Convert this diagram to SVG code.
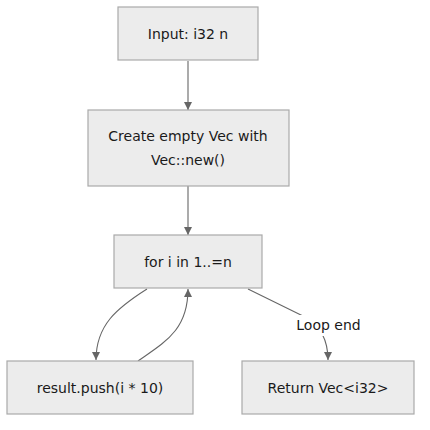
<svg xmlns="http://www.w3.org/2000/svg" width="430" height="430" viewBox="0 0 430 430">
<defs>
<style>
.node rect{fill:#ececec;stroke:#aaaaaa;stroke-width:1.2}
.node text,.lbl text{font-family:"DejaVu Sans","Open Sans",sans-serif;font-size:14px;fill:#1a1a1a;text-anchor:middle;dominant-baseline:central}
.edge{fill:none;stroke:#666;stroke-width:1.1}
</style>
<marker id="ah" viewBox="0 0 10 10" refX="10" refY="5" markerWidth="8" markerHeight="8" markerUnits="userSpaceOnUse" orient="auto">
<path d="M0,0 L10,5 L0,10 z" fill="#666"/>
</marker>
</defs>
<rect width="430" height="430" fill="#fff"/>
<g id="connectors">
<path class="edge" d="M188,61 L188,110" marker-end="url(#ah)"/>
<path class="edge" d="M188,186 L188,235" marker-end="url(#ah)"/>
<path class="edge" d="M147,289 C117,308 96,325 96,360" marker-end="url(#ah)"/>
<path class="edge" d="M138,361 C165,342 188,330 188,289" marker-end="url(#ah)"/>
<path class="edge" d="M248,289 L305,317 Q328,330 328,360" marker-end="url(#ah)"/>
<g class="lbl" id="label-loop-end">
<rect x="294" y="315" width="69" height="21" fill="#fff"/>
<text x="328.5" y="325">Loop end</text>
</g>
</g>
<g class="node" id="n-input">
<rect x="118" y="7" width="140" height="53"/>
<text x="188" y="34">Input: i32 n</text>
</g>
<g class="node" id="n-create">
<rect x="88" y="110" width="201" height="76"/>
<text x="188" y="136">Create empty Vec with</text>
<text x="188" y="160">Vec::new()</text>
</g>
<g class="node" id="n-for">
<rect x="114" y="235" width="148" height="53"/>
<text x="188" y="262">for i in 1..=n</text>
</g>
<g class="node" id="n-push">
<rect x="7" y="361" width="186" height="53"/>
<text x="100" y="388">result.push(i * 10)</text>
</g>
<g class="node" id="n-return">
<rect x="242" y="361" width="172" height="53"/>
<text x="328" y="388">Return Vec&lt;i32&gt;</text>
</g>
</svg>
